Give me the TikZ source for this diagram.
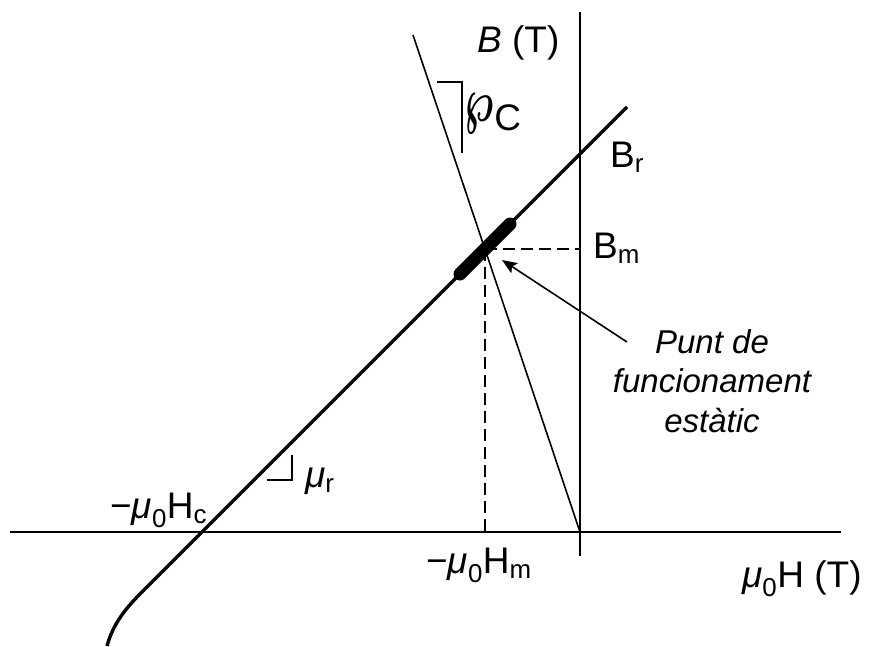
\documentclass[tikz,border=0pt]{standalone}
\usepackage{fontspec}
\setmainfont{Liberation Sans}
\usetikzlibrary{arrows.meta, positioning}

\begin{document}
\begin{tikzpicture}[x=1pt, y=-1pt, font=\fontsize{37}{40}\selectfont,
    >={Stealth[length=15pt, width=12pt, inset=3pt]},
    axis/.style={line width=1.6pt},
    demag/.style={line width=3.4pt},
    load/.style={line width=1.6pt},
    guide/.style={line width=1.6pt, dash pattern=on 12pt off 6pt},
    lbl/.style={inner sep=0pt, anchor=base west}]

  \useasboundingbox (0,0) rectangle (869,646);

  % axes
  \coordinate (xl) at (10,532);
  \coordinate (xr) at (841,532);
  \coordinate (yt) at (580,12);
  \coordinate (yb) at (580,556);
  \coordinate (O) at (580,532);
  \draw[axis] (xl) -- (xr);
  \draw[axis] (yt) -- (yb);

  % demagnetisation line and load line
  \coordinate (top) at (627,107);
  \coordinate (knee) at (140,594);
  \coordinate (low) at (107,646);
  \coordinate (lt) at (413,35);
  \coordinate (P) at (485,249);
  \coordinate (Pm) at (580,249);
  \coordinate (Hm) at (485,532);
  \draw[demag] (top) -- (knee) .. controls (121,613) and (112,628) .. (low);
  \draw[load] (lt) -- (O);
  \draw[line width=13pt, line cap=round] (460,274) -- (510,224);
  \draw[guide] (P) -- (Pm);
  \draw[guide] (P) -- (Hm);

  % slope markers
  \draw[load] (437,82) -- (462,82) -- (462,153);
  \draw[load] (267,480) -- (292,480) -- (292,455);

  % labels
  \node[lbl] (B) at (477,52) {\textit{B} (T)};
  \node[lbl] (pc) at (464,130)
    {\raisebox{8.6pt}{\fontsize{20}{20}\selectfont\boldmath\scalebox{1.9}[3]{$\wp$}}\kern1pt C};
  \node[lbl] (Br) at (610,167) {B\textsubscript{r}};
  \node[lbl] (Bm) at (593,258) {B\textsubscript{m}};
  \node[lbl] (Hc) at (110,518) {−\textit{μ}\textsubscript{0}H\textsubscript{c}};
  \node[lbl] (mur) at (305,487) {\textit{μ}\textsubscript{r}};
  \node[lbl] (Hmlbl) at (426,573) {−\textit{μ}\textsubscript{0}H\textsubscript{m}};
  \node[lbl] (H) at (742,587) {\textit{μ}\textsubscript{0}H (T)};
  \node[inner sep=0pt, anchor=base, align=center, font=\fontsize{33}{39.5}\selectfont\itshape]
    (note) at (712,432) {Punt de\\funcionament\\estàtic};

  \coordinate (tail) at (627,342);
  \coordinate (tip) at (502,260);
  \draw[load, ->] (tail) -- (tip);
\end{tikzpicture}
\end{document}
